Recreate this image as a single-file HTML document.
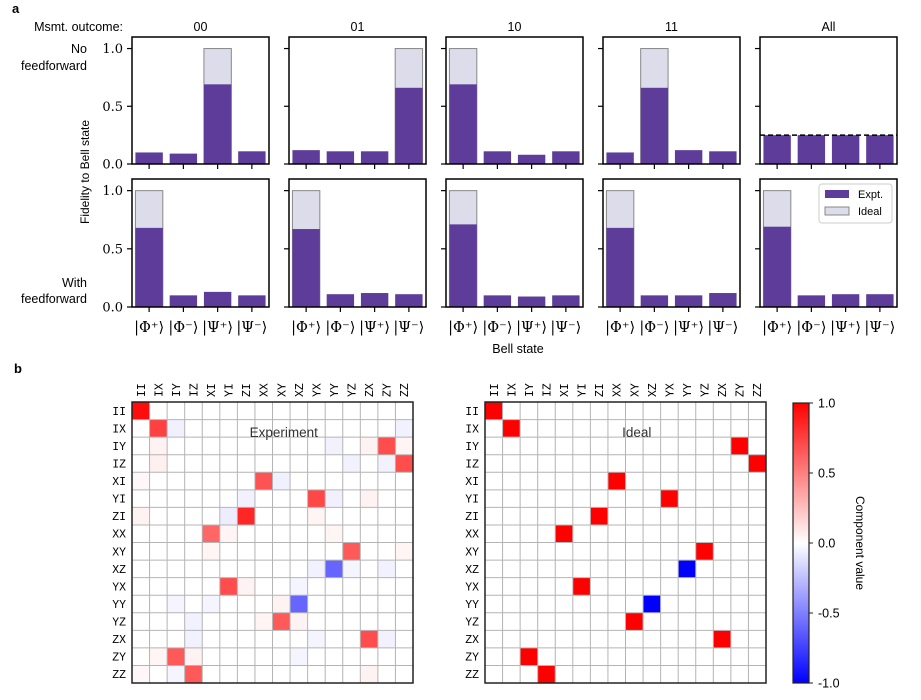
<!DOCTYPE html>
<html><head><meta charset="utf-8">
<style>
html,body{margin:0;padding:0;background:#fff;}
svg{display:block;}
.sans{font-family:"Liberation Sans","DejaVu Sans",sans-serif;}
.serif{font-family:"DejaVu Serif","Liberation Serif",serif;}
.mono{font-family:"Liberation Mono","DejaVu Sans Mono",monospace;}
</style></head>
<body>
<svg id="fig" width="921" height="700" viewBox="0 0 921 700" xmlns="http://www.w3.org/2000/svg"></svg>
<script>
// ---- Panel a data ----
const outcomes = ["00","01","10","11","All"];
const bellStates = ["|Φ⁺⟩","|Φ⁻⟩","|Ψ⁺⟩","|Ψ⁻⟩"];
const noFFExpt = [
  [0.10,0.09,0.69,0.11],
  [0.12,0.11,0.11,0.66],
  [0.69,0.11,0.08,0.11],
  [0.10,0.66,0.12,0.11],
  [0.25,0.25,0.25,0.25]
];
const noFFIdealIdx = [2,3,0,1,-1];
const ffExpt = [
  [0.68,0.10,0.13,0.10],
  [0.67,0.11,0.12,0.11],
  [0.71,0.10,0.09,0.10],
  [0.68,0.10,0.10,0.12],
  [0.69,0.10,0.11,0.11]
];
const ffIdealIdx = [0,0,0,0,0];
const allIdealLevel = 0.25;
const yTicks = [0.0,0.5,1.0];

// ---- Panel b data ----
const paulis = ["II","IX","IY","IZ","XI","YI","ZI","XX","XY","XZ","YX","YY","YZ","ZX","ZY","ZZ"];
const exptEntries = [
 ["II","II",0.95],["IX","IX",0.75],["IX","IY",-0.06],["IX","ZZ",-0.05],
 ["IY","ZY",0.7],["IY","IX",0.05],["IY","ZX",0.05],["IY","ZZ",0.04],["IY","YY",-0.05],
 ["IZ","ZZ",0.7],["IZ","IX",0.06],["IZ","ZY",-0.05],["IZ","YZ",-0.05],
 ["XI","XX",0.68],["XI","XY",-0.06],["XI","II",0.03],
 ["YI","YX",0.72],["YI","YY",-0.06],["YI","ZX",0.05],["YI","ZI",-0.05],
 ["ZI","ZI",0.85],["ZI","YI",-0.07],["ZI","II",0.05],["ZI","YX",0.04],
 ["XX","XI",0.6],["XX","YI",0.04],["XX","YY",0.04],
 ["XY","YZ",0.65],["XY","ZZ",0.04],["XY","XI",0.04],
 ["XZ","YY",-0.6],["XZ","YX",-0.05],["XZ","YZ",-0.04],["XZ","ZY",-0.05],
 ["YX","YI",0.7],["YX","ZI",0.05],["YX","XZ",-0.04],
 ["YY","XZ",-0.6],["YY","XY",0.05],["YY","IY",-0.04],["YY","XI",-0.04],
 ["YZ","XY",0.65],["YZ","XZ",0.05],["YZ","IZ",-0.05],["YZ","XX",0.04],
 ["ZX","ZX",0.7],["ZX","IZ",-0.05],["ZX","ZY",-0.05],["ZX","YX",-0.04],
 ["ZY","IY",0.65],["ZY","IZ",0.05],["ZY","IX",0.04],["ZY","XZ",-0.04],
 ["ZZ","IZ",0.65],["ZZ","IY",-0.04],["ZZ","ZX",0.05],["ZZ","II",0.03]
];
const idealEntries = [
 ["II","II",1],["IX","IX",1],["IY","ZY",1],["IZ","ZZ",1],["XI","XX",1],["YI","YX",1],
 ["ZI","ZI",1],["XX","XI",1],["XY","YZ",1],["XZ","YY",-1],["YX","YI",1],["YY","XZ",-1],
 ["YZ","XY",1],["ZX","ZX",1],["ZY","IY",1],["ZZ","IZ",1]
];
const cbTicks = [1.0,0.5,0.0,-0.5,-1.0];

const NS="http://www.w3.org/2000/svg";
const svg=document.getElementById('fig');
function mk(tag,attrs,parent,txt){const e=document.createElementNS(NS,tag);for(const k in attrs)e.setAttribute(k,attrs[k]);if(txt!==undefined)e.textContent=txt;(parent||svg).appendChild(e);return e;}

const PURPLE="#5e3c99", IDEAL="#dcdcea";
const colX0=132, colStep=157, colW=137;
const rows=[{top:37,bot:164,name:"no-feedforward",data:noFFExpt,ideal:noFFIdealIdx},
            {top:179,bot:307,name:"with-feedforward",data:ffExpt,ideal:ffIdealIdx}];
const yMax=1.1;

let t;
t=mk('text',{x:12,y:13,'font-size':13,'font-weight':'bold',class:'sans'},svg,'a');

t=mk('text',{x:123,y:31,'font-size':12.5,'text-anchor':'end',class:'sans'},svg,'Msmt. outcome:');


rows.forEach((r,ri)=>{
  const ys=v=>r.bot-(v/yMax)*(r.bot-r.top);
  outcomes.forEach((o,ci)=>{
    const x0=colX0+ci*colStep, x1=x0+colW;
    const xs=i=>x0+(i+0.5)/4*colW;
    const g=mk('g',{},svg);
    
    
    if(ri===0){
      const tt=mk('text',{x:(x0+x1)/2,y:31,'font-size':12.5,'text-anchor':'middle',class:'sans'},g,o);
      
      
    }
    const bw=0.8/4*colW;
    r.data[ci].forEach((v,i)=>{
      if(r.ideal[ci]===i){
        const ib=mk('rect',{x:xs(i)-bw/2,y:ys(1),width:bw,height:ys(0)-ys(1),fill:IDEAL,stroke:'#888','stroke-width':1},g);
        
        
      }
      const b=mk('rect',{x:xs(i)-bw/2,y:ys(v),width:bw,height:ys(0)-ys(v),fill:PURPLE},g);
      
      
    });
    if(r.ideal[ci]<0){
      const dl=mk('line',{x1:x0,x2:x1,y1:ys(allIdealLevel),y2:ys(allIdealLevel),stroke:'#000','stroke-width':1.5,'stroke-dasharray':'5,3'},g);
      
      
    }
    mk('rect',{x:x0,y:r.top,width:colW,height:r.bot-r.top,fill:'none',stroke:'#000','stroke-width':1.5},g);
    yTicks.forEach(v=>{
      mk('line',{x1:x0-5,x2:x0,y1:ys(v),y2:ys(v),stroke:'#000','stroke-width':1.2},g);
      if(ci===0){
        const tl=mk('text',{x:x0-9,y:ys(v)+4.5,'font-size':13,'text-anchor':'end',class:'serif'},g,v.toFixed(1));
        
        
      }
    });
    bellStates.forEach((s,i)=>{
      mk('line',{x1:xs(i),x2:xs(i),y1:r.bot,y2:r.bot+5,stroke:'#000','stroke-width':1.2},g);
      if(ri===1){
        const xl=mk('text',{x:xs(i),y:r.bot+25,'font-size':14.5,'text-anchor':'middle',class:'serif'},g,s);
        
        
      }
    });
  });
});
[["No",53],["feedforward",70]].forEach(([s,y])=>{const e=mk('text',{x:87,y:y,'font-size':12.5,'text-anchor':'end',class:'sans'},svg,s);});
[["With",287],["feedforward",303]].forEach(([s,y])=>{const e=mk('text',{x:87,y:y,'font-size':12.5,'text-anchor':'end',class:'sans'},svg,s);});
t=mk('text',{x:0,y:0,'font-size':12,'text-anchor':'middle',class:'sans',transform:'translate(89,172) rotate(-90)'},svg,'Fidelity to Bell state');

t=mk('text',{x:518,y:353,'font-size':12.5,'text-anchor':'middle',class:'sans'},svg,'Bell state');

const lg=mk('g',{},svg);

mk('rect',{x:819,y:184,width:73,height:39,rx:3,fill:'#fff',stroke:'#ccc','stroke-width':1},lg);
mk('rect',{x:825,y:190,width:24,height:8,fill:PURPLE},lg);
mk('rect',{x:825,y:207,width:24,height:8,fill:IDEAL,stroke:'#888','stroke-width':1},lg);
t=mk('text',{x:858,y:198,'font-size':11,class:'sans'},lg,'Expt.');

t=mk('text',{x:858,y:215,'font-size':11,class:'sans'},lg,'Ideal');


// ---- Panel b ----
t=mk('text',{x:14,y:373,'font-size':13,'font-weight':'bold',class:'sans'},svg,'b');

function bwr(v){v=Math.max(-1,Math.min(1,v));
  if(v>=0){const c=Math.round(255*(1-v));return `rgb(255,${c},${c})`;}
  const c=Math.round(255*(1+v));return `rgb(${c},${c},255)`;}
function heatmap(x0,y0,size,entries,title,name){
  const n=paulis.length,cs=size/n;
  const g=mk('g',{},svg);
  
  mk('rect',{x:x0,y:y0,width:size,height:size,fill:'#fff'},g);
  entries.forEach(([r,c,v])=>{
    const ri=paulis.indexOf(r),ci=paulis.indexOf(c);
    const cell=mk('rect',{x:x0+ci*cs,y:y0+ri*cs,width:cs,height:cs,fill:bwr(v)},g);
    
    
  });
  for(let i=1;i<n;i++){
    mk('line',{x1:x0+i*cs,x2:x0+i*cs,y1:y0,y2:y0+size,stroke:'#b4b4b4','stroke-width':1},g);
    mk('line',{x1:x0,x2:x0+size,y1:y0+i*cs,y2:y0+i*cs,stroke:'#b4b4b4','stroke-width':1},g);
  }
  mk('rect',{x:x0,y:y0,width:size,height:size,fill:'none',stroke:'#222','stroke-width':1.5},g);
  paulis.forEach((p,i)=>{
    const yl=mk('text',{x:x0-6,y:y0+(i+0.5)*cs+4,'font-size':11.5,'text-anchor':'end',class:'mono'},g,p);
    
    const cx=x0+(i+0.5)*cs;
    const xl=mk('text',{x:0,y:0,'font-size':11.5,class:'mono',transform:`translate(${cx+4},${y0-5}) rotate(-90)`},g,p);
    
  });
  const tl=mk('text',{x:x0+size*0.54,y:y0+35,'font-size':13.5,'text-anchor':'middle',class:'sans',fill:'#333'},g,title);
  
}
heatmap(132,402,281,exptEntries,'Experiment','experiment-heatmap');
heatmap(485,402,281,idealEntries,'Ideal','ideal-heatmap');

const cb=mk('g',{},svg);

const defs=mk('defs',{},svg);
const grad=mk('linearGradient',{id:'bwr',x1:0,y1:0,x2:0,y2:1},defs);
mk('stop',{offset:'0%','stop-color':'rgb(255,0,0)'},grad);
mk('stop',{offset:'50%','stop-color':'rgb(255,255,255)'},grad);
mk('stop',{offset:'100%','stop-color':'rgb(0,0,255)'},grad);
const cbx=793,cby0=403,cby1=683,cbw=16;
mk('rect',{x:cbx,y:cby0,width:cbw,height:cby1-cby0,fill:'url(#bwr)',stroke:'#222','stroke-width':1.2},cb);
const cbY=v=>cby0+(1-v)/2*(cby1-cby0);
cbTicks.forEach(v=>{
  mk('line',{x1:cbx+cbw,x2:cbx+cbw+4,y1:cbY(v),y2:cbY(v),stroke:'#222','stroke-width':1},cb);
  const tl=mk('text',{x:cbx+cbw+9,y:cbY(v)+4.5,'font-size':12.5,class:'sans'},cb,v.toFixed(1));
  
});
t=mk('text',{x:0,y:0,'font-size':12,'text-anchor':'middle',class:'sans',transform:'translate(856,543) rotate(90)'},svg,'Component value');

</script>
</body></html>
